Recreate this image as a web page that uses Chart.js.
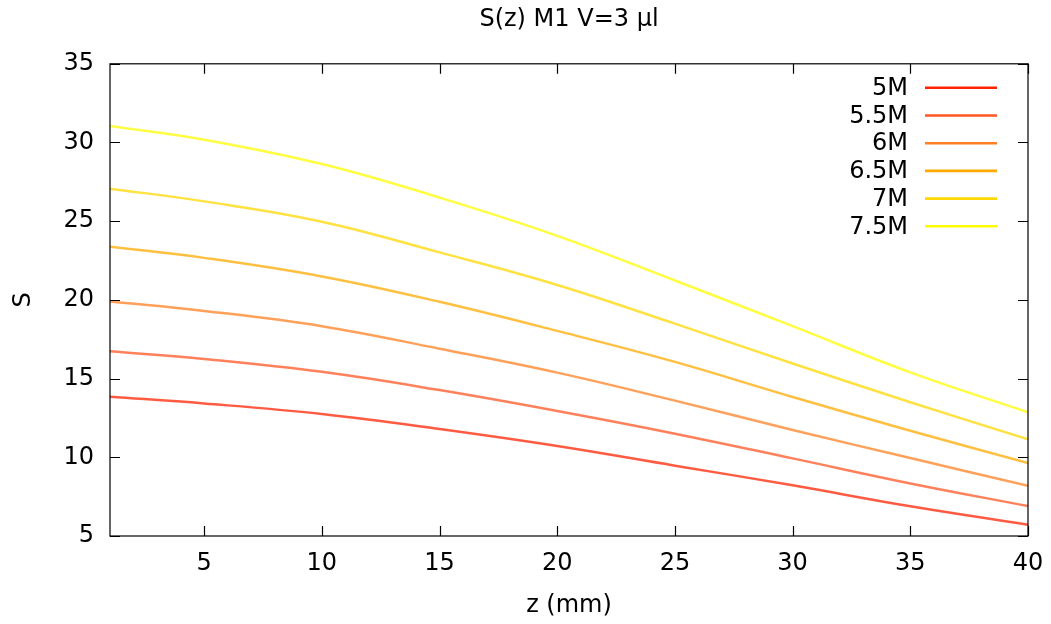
<!DOCTYPE html>
<html>
<head>
<meta charset="utf-8">
<script src="https://cdn.jsdelivr.net/npm/chart.js@4"></script>
<style>
html, body { margin: 0; padding: 0; background: #fff; }
</style>
</head>
<body>
<canvas id="chart" width="1051" height="624"></canvas>
<script>
// values
const zValues = [1, 5, 10, 15, 20, 25, 30, 35, 40];
const seriesLabels = ['5M', '5.5M', '6M', '6.5M', '7M', '7.5M'];
const s5M   = [13.85, 13.42, 12.75, 11.80, 10.72, 9.47, 8.22, 6.89, 5.72];
const s55M  = [16.74, 16.25, 15.43, 14.27, 12.94, 11.50, 9.93, 8.34, 6.90];
const s6M   = [19.90, 19.30, 18.33, 16.90, 15.38, 13.60, 11.74, 9.95, 8.19];
const s65M  = [23.38, 22.67, 21.49, 19.88, 18.03, 16.06, 13.83, 11.69, 9.63];
const s7M   = [27.07, 26.26, 24.97, 23.02, 20.95, 18.49, 15.96, 13.50, 11.15];
const s75M  = [31.05, 30.18, 28.63, 26.50, 24.07, 21.23, 18.33, 15.40, 12.86];
const xTicks = [5, 10, 15, 20, 25, 30, 35, 40];
const yTicks = [5, 10, 15, 20, 25, 30, 35];

const allSeries = [s5M, s55M, s6M, s65M, s7M, s75M];
const keyColors = ['#ff2200', '#ff5522', '#ff8020', '#ffaa00', '#ffd800', '#ffff00'];
const curveColors = ['rgba(255,34,0,0.74)', 'rgba(255,85,34,0.74)', 'rgba(255,128,32,0.74)',
                     'rgba(255,170,0,0.74)', 'rgba(255,216,0,0.74)', 'rgba(255,255,0,0.74)'];

const FONT = 'DejaVu Sans';
const FSIZE = 24;

// gnuplot-like border, inward mirrored ticks and key
const framePlugin = {
    id: 'frame',
    afterDatasetsDraw(chart) {
        const { ctx, chartArea: a, scales: { x, y } } = chart;
        ctx.save();
        ctx.strokeStyle = '#000';
        ctx.lineWidth = 1.2;
        ctx.strokeRect(a.left, a.top, a.right - a.left, a.bottom - a.top);
        const t = 10;
        ctx.beginPath();
        xTicks.forEach(v => {
            const px = Math.round(x.getPixelForValue(v)) + 0.5;
            ctx.moveTo(px, a.bottom); ctx.lineTo(px, a.bottom - t);
            ctx.moveTo(px, a.top); ctx.lineTo(px, a.top + t);
        });
        yTicks.forEach(v => {
            const py = Math.round(y.getPixelForValue(v)) + 0.5;
            ctx.moveTo(a.left, py); ctx.lineTo(a.left + t, py);
            ctx.moveTo(a.right, py); ctx.lineTo(a.right - t, py);
        });
        ctx.stroke();

        // key, top right: text right aligned then sample line
        ctx.font = FSIZE + 'px "' + FONT + '"';
        ctx.textAlign = 'right';
        ctx.textBaseline = 'middle';
        const textRight = a.right - 120;
        const lineStart = a.right - 103;
        const lineEnd = a.right - 31;
        chart.data.datasets.forEach((ds, i) => {
            const rowY = a.top + 24 + i * 27.7;
            ctx.fillStyle = '#000';
            ctx.fillText(ds.label, textRight, rowY + 1);
            ctx.strokeStyle = keyColors[i];
            ctx.lineWidth = 2.6;
            ctx.beginPath();
            ctx.moveTo(lineStart, rowY);
            ctx.lineTo(lineEnd, rowY);
            ctx.stroke();
        });
        ctx.restore();
    }
};

const datasets = allSeries.map((vals, i) => ({
    label: seriesLabels[i],
    data: zValues.map((z, j) => ({ x: z, y: vals[j] })),
    borderColor: curveColors[i],
    backgroundColor: curveColors[i],
    borderWidth: 2.5,
    pointRadius: 0,
    fill: false,
    tension: 0.4
}));

new Chart(document.getElementById('chart').getContext('2d'), {
    type: 'line',
    data: { datasets: datasets },
    options: {
        responsive: false,
        animation: false,
        devicePixelRatio: 1,
        layout: { padding: { left: 0, right: 23, top: 0, bottom: 0 } },
        plugins: {
            legend: { display: false },
            tooltip: { enabled: false },
            title: {
                display: true,
                fullSize: false,
                text: 'S(z) M1 V=3 µl',
                color: '#000',
                font: { family: FONT, size: FSIZE, weight: 'normal' },
                padding: { top: 5, bottom: 30 }
            }
        },
        scales: {
            x: {
                type: 'linear',
                min: 1,
                max: 40,
                grid: { display: false, drawTicks: false },
                border: { display: false },
                afterBuildTicks: (scale) => { scale.ticks = xTicks.map(v => ({ value: v })); },
                afterFit: (scale) => {
                    scale.height = 88;
                    scale.paddingLeft = 0;
                    scale.paddingRight = 0;
                },
                ticks: {
                    color: '#000',
                    padding: 13,
                    maxRotation: 0,
                    font: { family: FONT, size: FSIZE }
                },
                title: {
                    display: true,
                    text: 'z (mm)',
                    color: '#000',
                    font: { family: FONT, size: FSIZE },
                    padding: { top: 0, bottom: 4 }
                }
            },
            y: {
                min: 5,
                max: 35,
                grid: { display: false, drawTicks: false },
                border: { display: false },
                afterBuildTicks: (scale) => { scale.ticks = yTicks.map(v => ({ value: v })); },
                afterFit: (scale) => {
                    scale.width = 110;
                    scale.paddingTop = 0;
                    scale.paddingBottom = 0;
                },
                ticks: {
                    color: '#000',
                    padding: 16,
                    font: { family: FONT, size: FSIZE }
                },
                title: {
                    display: true,
                    text: 'S',
                    color: '#000',
                    font: { family: FONT, size: FSIZE },
                    padding: { top: 9, bottom: 0 }
                }
            }
        }
    },
    plugins: [framePlugin]
});
</script>
</body>
</html>
